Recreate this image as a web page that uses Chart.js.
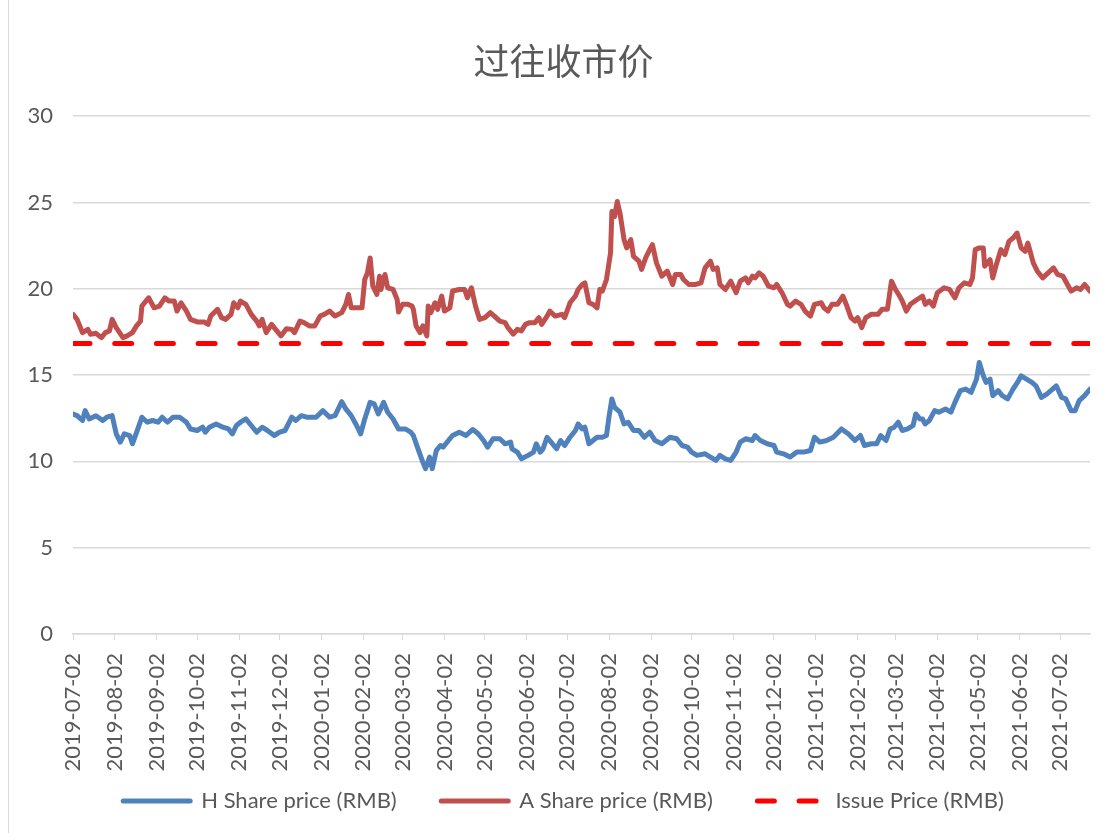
<!DOCTYPE html>
<html>
<head>
<meta charset="utf-8">
<script src="https://cdn.jsdelivr.net/npm/chart.js@4.4.1/dist/chart.umd.min.js"></script>
<style>
  html, body { margin: 0; padding: 0; background: #fff; }
  #wrap { position: relative; width: 1106px; height: 833px; }
  #edge { position: absolute; left: 8px; top: 0; width: 1px; height: 833px; background: #d9d9d9; }
  canvas { position: absolute; left: 0; top: 0; }
</style>
</head>
<body>
<div id="wrap">
  <div id="edge"></div>
  <canvas id="chart" width="1106" height="833"></canvas>
</div>
<script>
// x values are calendar days after 2019-07-02
const startDate = "2019-07-02";

const tickLabels = [
  "2019-07-02", "2019-08-02", "2019-09-02", "2019-10-02", "2019-11-02", "2019-12-02",
  "2020-01-02", "2020-02-02", "2020-03-02", "2020-04-02", "2020-05-02", "2020-06-02",
  "2020-07-02", "2020-08-02", "2020-09-02", "2020-10-02", "2020-11-02", "2020-12-02",
  "2021-01-02", "2021-02-02", "2021-03-02", "2021-04-02", "2021-05-02", "2021-06-02",
  "2021-07-02"
];

const hDay = [
  0, 3, 7, 9, 12, 17, 22, 25, 29, 32, 35, 38, 42, 44, 48, 51, 55, 59, 63, 66, 70, 74, 79, 84, 87,
  92, 96, 98, 101, 106, 111, 115, 118, 121, 124, 128, 132, 136, 140, 144, 149, 153, 157, 162, 165,
  169, 173, 180, 185, 190, 194, 199, 202, 206, 210, 213, 216, 220, 223, 226, 230, 233, 237, 241,
  246, 250, 252, 255, 259, 261, 264, 266, 269, 272, 274, 278, 281, 286, 291, 296, 300, 304, 307,
  311, 316, 320, 324, 325, 329, 332, 337, 341, 343, 346, 348, 351, 354, 358, 361, 364, 368, 372,
  374, 377, 379, 382, 385, 388, 392, 395, 397, 399, 401, 405, 408, 411, 415, 419, 423, 427, 431,
  436, 442, 447, 451, 455, 458, 462, 468, 472, 476, 479, 483, 487, 491, 494, 498, 503, 505, 509,
  514, 519, 521, 526, 531, 536, 541, 546, 549, 553, 558, 563, 569, 574, 579, 583, 586, 591, 595,
  598, 602, 605, 608, 611, 614, 618, 622, 624, 627, 629, 631, 634, 638, 641, 646, 650, 653, 657,
  661, 665, 669, 671, 674, 676, 679, 681, 685, 688, 692, 696, 700, 702, 706, 710, 713, 717, 721,
  724, 728, 732, 735, 739, 742, 745, 749, 753
];
const hPrice = [
  12.75, 12.65, 12.37, 12.94, 12.46, 12.65, 12.37, 12.56, 12.65, 11.6, 11.12, 11.6, 11.5, 11.02,
  11.88, 12.56, 12.27, 12.37, 12.27, 12.56, 12.27, 12.56, 12.56, 12.27, 11.88, 11.79, 11.98, 11.69,
  11.98, 12.17, 11.98, 11.88, 11.6, 12.08, 12.27, 12.46, 12.08, 11.69, 11.98, 11.79, 11.5, 11.69,
  11.79, 12.56, 12.37, 12.65, 12.56, 12.56, 12.94, 12.56, 12.65, 13.46, 13.04, 12.65, 12.08, 11.6,
  12.46, 13.42, 13.33, 12.75, 13.42, 12.85, 12.46, 11.88, 11.88, 11.7, 11.5, 10.83, 9.96, 9.58,
  10.25, 9.58, 10.63, 10.92, 10.83, 11.21, 11.5, 11.69, 11.5, 11.85, 11.6, 11.21, 10.83, 11.31,
  11.31, 11.02, 11.12, 10.73, 10.54, 10.15, 10.35, 10.54, 11.02, 10.54, 10.73, 11.4, 11.12, 10.73,
  11.21, 10.92, 11.4, 11.79, 12.17, 11.88, 11.98, 11.02, 11.21, 11.4, 11.4, 11.5, 12.65, 13.62,
  13.13, 12.85, 12.17, 12.27, 11.79, 11.79, 11.4, 11.69, 11.21, 11.02, 11.4, 11.31, 10.92, 10.83,
  10.54, 10.35, 10.44, 10.25, 10.06, 10.35, 10.15, 10.06, 10.54, 11.12, 11.31, 11.21, 11.5, 11.21,
  11.02, 10.92, 10.54, 10.44, 10.25, 10.54, 10.54, 10.63, 11.4, 11.12, 11.21, 11.4, 11.88, 11.6,
  11.21, 11.5, 10.92, 11.02, 11.02, 11.5, 11.21, 11.88, 11.98, 12.27, 11.79, 11.88, 12.08, 12.75,
  12.46, 12.46, 12.17, 12.37, 12.94, 12.85, 13.04, 12.85, 13.42, 14.1, 14.19, 14.0, 14.77, 15.73,
  14.96, 14.58, 14.77, 13.81, 14.1, 13.81, 13.62, 14.19, 14.67, 14.96, 14.77, 14.58, 14.38, 13.71,
  13.9, 14.1, 14.38, 13.71, 13.62, 12.94, 12.94, 13.52, 13.81, 14.19
];

const aDay = [
  0, 3, 7, 11, 13, 17, 21, 24, 27, 29, 32, 37, 40, 44, 47, 50, 51, 56, 60, 64, 68, 71, 75, 77, 80,
  84, 87, 92, 97, 100, 102, 107, 110, 113, 117, 119, 122, 124, 126, 128, 132, 136, 138, 140, 143,
  147, 150, 154, 158, 162, 164, 168, 171, 175, 179, 183, 186, 190, 194, 199, 202, 204, 206, 210,
  214, 216, 218, 220, 222, 225, 227, 228, 231, 233, 237, 240, 241, 244, 248, 251, 252, 254, 257,
  259, 262, 263, 265, 268, 270, 273, 275, 279, 281, 286, 290, 292, 295, 298, 301, 305, 309, 312,
  316, 320, 322, 326, 329, 332, 335, 338, 342, 345, 347, 351, 353, 357, 362, 364, 368, 372, 374,
  377, 379, 382, 385, 388, 390, 392, 395, 398, 399, 401, 403, 405, 408, 410, 413, 415, 419, 421,
  424, 427, 429, 432, 436, 440, 444, 446, 450, 452, 456, 461, 465, 468, 472, 474, 477, 479, 483,
  487, 491, 494, 498, 500, 503, 505, 508, 511, 515, 519, 521, 525, 529, 531, 535, 539, 542, 546,
  549, 554, 556, 559, 562, 566, 570, 573, 576, 579, 581, 584, 587, 591, 596, 599, 603, 606, 609,
  612, 614, 617, 620, 625, 629, 631, 634, 637, 640, 645, 649, 653, 656, 660, 664, 666, 668, 671,
  674, 675, 679, 681, 684, 687, 690, 693, 696, 699, 702, 705, 707, 711, 714, 718, 722, 726, 729,
  733, 737, 739, 743, 746, 749, 753
];
const aPrice = [
  18.52, 18.23, 17.46, 17.65, 17.37, 17.42, 17.17, 17.46, 17.56, 18.23, 17.75, 17.17, 17.27, 17.46,
  17.85, 18.13, 19.0, 19.48, 18.9, 19.0, 19.48, 19.29, 19.29, 18.71, 19.19, 18.71, 18.23, 18.08,
  18.08, 17.94, 18.42, 18.81, 18.33, 18.23, 18.52, 19.19, 18.9, 19.29, 19.19, 19.1, 18.52, 18.13,
  17.85, 18.23, 17.46, 17.94, 17.65, 17.27, 17.69, 17.65, 17.46, 18.13, 18.04, 17.85, 17.85, 18.42,
  18.52, 18.71, 18.42, 18.62, 19.1, 19.67, 18.9, 18.9, 18.9, 20.54, 20.92, 21.79, 20.15, 19.67,
  20.73, 19.96, 20.83, 20.06, 19.96, 19.38, 18.65, 19.1, 19.1, 19.0, 18.81, 17.85, 17.46, 17.85,
  17.27, 19.0, 18.62, 19.19, 18.81, 19.58, 18.71, 18.9, 19.87, 19.96, 19.96, 19.48, 20.06, 19.0,
  18.23, 18.33, 18.62, 18.42, 18.13, 18.04, 17.75, 17.37, 17.65, 17.56, 17.94, 18.04, 18.04, 18.33,
  17.94, 18.42, 18.71, 18.42, 18.52, 18.33, 19.19, 19.58, 19.96, 20.25, 20.35, 19.19, 19.1, 18.9,
  19.96, 19.87, 20.54, 22.08, 24.48, 24.19, 25.06, 24.38, 22.85, 22.37, 22.85, 21.88, 21.6, 21.12,
  21.79, 22.27, 22.56, 21.5, 20.73, 21.02, 20.25, 20.83, 20.83, 20.54, 20.25, 20.25, 20.35, 21.21,
  21.6, 21.12, 21.21, 20.25, 19.96, 20.44, 19.77, 20.44, 20.63, 20.35, 20.73, 20.63, 20.92, 20.73,
  20.15, 20.06, 20.25, 19.77, 19.1, 19.0, 19.29, 19.1, 18.71, 18.42, 19.1, 19.19, 18.9, 18.71,
  19.1, 19.1, 19.58, 19.0, 18.33, 18.13, 18.33, 17.75, 18.33, 18.52, 18.52, 18.81, 18.81, 20.44,
  19.96, 19.58, 19.29, 18.71, 19.1, 19.38, 19.58, 19.1, 19.29, 19.0, 19.77, 20.06, 19.96, 19.48,
  20.06, 20.35, 20.25, 20.63, 22.27, 22.37, 22.37, 21.31, 21.69, 20.63, 21.5, 22.27, 21.98, 22.75,
  22.94, 23.23, 22.37, 22.17, 22.65, 21.5, 21.02, 20.63, 20.92, 21.21, 20.83, 20.73, 20.15, 19.87,
  20.06, 19.96, 20.25, 19.87
];

const issueDay = [0, 753];
const issuePrice = [16.83, 16.83];

const seriesNames = ["H Share price (RMB)", "A Share price (RMB)", "Issue Price (RMB)"];
const yTicks = [0, 5, 10, 15, 20, 25, 30];

function dayOf(s) {
  const [y, m, d] = s.split("-").map(Number);
  const [y0, m0, d0] = startDate.split("-").map(Number);
  return Math.round((Date.UTC(y, m - 1, d) - Date.UTC(y0, m0 - 1, d0)) / 86400000);
}

function points(days, vals) {
  return days.map((d, i) => ({ x: d, y: vals[i] }));
}

const latin = 'Lato, "Noto Sans CJK SC", sans-serif';
const grey = "#595959";
const gridGrey = "#d9d9d9";
// extra room after a legend entry, the gap Excel leaves between items
const legendGap = "\u2003\u2002";

const common = {
  pointRadius: 0,
  borderWidth: 5,
  borderCapStyle: "round",
  borderJoinStyle: "round",
  tension: 0,
  fill: false
};

new Chart(document.getElementById("chart"), {
  type: "line",
  data: {
    datasets: [
      { ...common, label: seriesNames[0], data: points(hDay, hPrice),
        borderColor: "#4f81bd", backgroundColor: "#4f81bd" },
      { ...common, label: seriesNames[1], data: points(aDay, aPrice),
        borderColor: "#c0504d", backgroundColor: "#c0504d" },
      { ...common, label: seriesNames[2], data: points(issueDay, issuePrice),
        borderColor: "#ff0000", backgroundColor: "#ff0000", borderDash: [17, 24.7] }
    ]
  },
  options: {
    responsive: false,
    animation: false,
    layout: { padding: { left: 21, right: 0, top: 0, bottom: 11 } },
    plugins: {
      title: {
        display: true,
        text: "过往收市价",
        color: grey,
        font: { family: '"Noto Sans CJK SC", sans-serif', size: 36, weight: "normal" },
        padding: { top: 40, bottom: 33 }
      },
      legend: {
        position: "bottom",
        labels: {
          usePointStyle: true,
          pointStyle: "line",
          pointStyleWidth: 67,
          color: grey,
          font: { family: latin, size: 22 },
          padding: 17,
          generateLabels: (chart) => {
            const items = Chart.defaults.plugins.legend.labels.generateLabels(chart);
            items.forEach((it, i) => {
              const ds = chart.data.datasets[it.datasetIndex];
              it.lineDash = ds.borderDash || [];
              it.lineCap = "round";
              it.lineWidth = 5;
              it.strokeStyle = ds.borderColor;
              if (i < items.length - 1) it.text += legendGap;
            });
            return items;
          }
        }
      },
      tooltip: { enabled: false }
    },
    scales: {
      x: {
        type: "linear",
        min: 0,
        max: 753,
        afterBuildTicks: (scale) => {
          scale.ticks = tickLabels.map((t) => ({ value: dayOf(t) }));
        },
        afterFit: (scale) => { scale.height = 139; },
        ticks: {
          autoSkip: false,
          minRotation: 90,
          maxRotation: 90,
          padding: 13,
          color: grey,
          font: { family: latin, size: 22 },
          callback: (v, i) => tickLabels[i]
        },
        grid: { drawOnChartArea: false, drawTicks: true, tickLength: 6, color: gridGrey },
        border: { color: gridGrey, width: 1.5 }
      },
      y: {
        min: 0,
        max: 30,
        afterBuildTicks: (scale) => {
          scale.ticks = yTicks.map((v) => ({ value: v }));
        },
        afterFit: (scale) => { scale.width = 52; },
        ticks: { padding: 20, color: grey, font: { family: latin, size: 22 } },
        grid: { color: gridGrey, lineWidth: 1.5, drawTicks: false },
        border: { display: false }
      },
      // empty strip on the right, keeps the plot off the edge
      yRight: {
        type: "linear",
        position: "right",
        afterFit: (scale) => { scale.width = 16; },
        ticks: { display: false },
        grid: { display: false },
        border: { display: false }
      }
    }
  }
});
</script>
</body>
</html>
